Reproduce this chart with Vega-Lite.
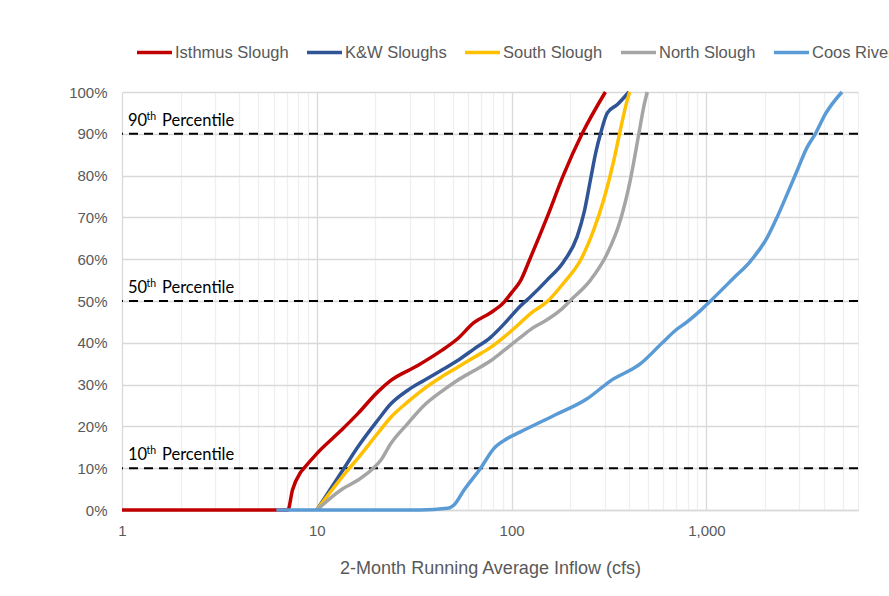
{
  "$schema": "https://vega.github.io/schema/vega-lite/v6.json",
  "width": 736,
  "height": 418,
  "autosize": {"type": "none"},
  "padding": {"left": 122, "top": 92, "right": 31, "bottom": 86},
  "background": "white",
  "config": {"view": {"stroke": null}, "font": "Liberation Sans"},
  "datasets": {
    "curves": [
      {"series": "Isthmus Slough", "flow": 1, "pct": 0},
      {"series": "Isthmus Slough", "flow": 7.1, "pct": 0},
      {"series": "Isthmus Slough", "flow": 7.5, "pct": 0.048},
      {"series": "Isthmus Slough", "flow": 8.2, "pct": 0.088},
      {"series": "Isthmus Slough", "flow": 8.6, "pct": 0.10},
      {"series": "Isthmus Slough", "flow": 10, "pct": 0.135},
      {"series": "Isthmus Slough", "flow": 13.3, "pct": 0.19},
      {"series": "Isthmus Slough", "flow": 16.2, "pct": 0.23},
      {"series": "Isthmus Slough", "flow": 20.5, "pct": 0.282},
      {"series": "Isthmus Slough", "flow": 24, "pct": 0.31},
      {"series": "Isthmus Slough", "flow": 32.8, "pct": 0.345},
      {"series": "Isthmus Slough", "flow": 43.2, "pct": 0.38},
      {"series": "Isthmus Slough", "flow": 52.6, "pct": 0.409},
      {"series": "Isthmus Slough", "flow": 64, "pct": 0.448},
      {"series": "Isthmus Slough", "flow": 78, "pct": 0.472},
      {"series": "Isthmus Slough", "flow": 91, "pct": 0.496},
      {"series": "Isthmus Slough", "flow": 100, "pct": 0.52},
      {"series": "Isthmus Slough", "flow": 111, "pct": 0.548},
      {"series": "Isthmus Slough", "flow": 124, "pct": 0.60},
      {"series": "Isthmus Slough", "flow": 152, "pct": 0.70},
      {"series": "Isthmus Slough", "flow": 184, "pct": 0.80},
      {"series": "Isthmus Slough", "flow": 230, "pct": 0.90},
      {"series": "Isthmus Slough", "flow": 303, "pct": 1.0},

      {"series": "K&W Sloughs", "flow": 10, "pct": 0},
      {"series": "K&W Sloughs", "flow": 13.8, "pct": 0.10},
      {"series": "K&W Sloughs", "flow": 16.2, "pct": 0.15},
      {"series": "K&W Sloughs", "flow": 20.5, "pct": 0.214},
      {"series": "K&W Sloughs", "flow": 24, "pct": 0.254},
      {"series": "K&W Sloughs", "flow": 29.2, "pct": 0.286},
      {"series": "K&W Sloughs", "flow": 35.5, "pct": 0.31},
      {"series": "K&W Sloughs", "flow": 43.2, "pct": 0.333},
      {"series": "K&W Sloughs", "flow": 52.6, "pct": 0.357},
      {"series": "K&W Sloughs", "flow": 64, "pct": 0.385},
      {"series": "K&W Sloughs", "flow": 78, "pct": 0.413},
      {"series": "K&W Sloughs", "flow": 91, "pct": 0.444},
      {"series": "K&W Sloughs", "flow": 111, "pct": 0.488},
      {"series": "K&W Sloughs", "flow": 125, "pct": 0.51},
      {"series": "K&W Sloughs", "flow": 152, "pct": 0.55},
      {"series": "K&W Sloughs", "flow": 185, "pct": 0.594},
      {"series": "K&W Sloughs", "flow": 217, "pct": 0.654},
      {"series": "K&W Sloughs", "flow": 235, "pct": 0.71},
      {"series": "K&W Sloughs", "flow": 254, "pct": 0.79},
      {"series": "K&W Sloughs", "flow": 270, "pct": 0.854},
      {"series": "K&W Sloughs", "flow": 286, "pct": 0.90},
      {"series": "K&W Sloughs", "flow": 310, "pct": 0.95},
      {"series": "K&W Sloughs", "flow": 349, "pct": 0.97},
      {"series": "K&W Sloughs", "flow": 400, "pct": 1.0},

      {"series": "South Slough", "flow": 10, "pct": 0},
      {"series": "South Slough", "flow": 14.7, "pct": 0.10},
      {"series": "South Slough", "flow": 16.2, "pct": 0.123},
      {"series": "South Slough", "flow": 20.5, "pct": 0.183},
      {"series": "South Slough", "flow": 24, "pct": 0.222},
      {"series": "South Slough", "flow": 29.2, "pct": 0.258},
      {"series": "South Slough", "flow": 35.5, "pct": 0.29},
      {"series": "South Slough", "flow": 43.2, "pct": 0.317},
      {"series": "South Slough", "flow": 52.6, "pct": 0.341},
      {"series": "South Slough", "flow": 64, "pct": 0.365},
      {"series": "South Slough", "flow": 78, "pct": 0.389},
      {"series": "South Slough", "flow": 91, "pct": 0.413},
      {"series": "South Slough", "flow": 111, "pct": 0.448},
      {"series": "South Slough", "flow": 125, "pct": 0.47},
      {"series": "South Slough", "flow": 152, "pct": 0.498},
      {"series": "South Slough", "flow": 185, "pct": 0.543},
      {"series": "South Slough", "flow": 226, "pct": 0.598},
      {"series": "South Slough", "flow": 264, "pct": 0.67},
      {"series": "South Slough", "flow": 297, "pct": 0.742},
      {"series": "South Slough", "flow": 335, "pct": 0.837},
      {"series": "South Slough", "flow": 358, "pct": 0.90},
      {"series": "South Slough", "flow": 392, "pct": 0.98},
      {"series": "South Slough", "flow": 404, "pct": 1.0},

      {"series": "North Slough", "flow": 10, "pct": 0},
      {"series": "North Slough", "flow": 13.3, "pct": 0.048},
      {"series": "North Slough", "flow": 16.2, "pct": 0.071},
      {"series": "North Slough", "flow": 19.3, "pct": 0.098},
      {"series": "North Slough", "flow": 21.3, "pct": 0.119},
      {"series": "North Slough", "flow": 24, "pct": 0.159},
      {"series": "North Slough", "flow": 29.2, "pct": 0.206},
      {"series": "North Slough", "flow": 35.5, "pct": 0.25},
      {"series": "North Slough", "flow": 43.2, "pct": 0.282},
      {"series": "North Slough", "flow": 52.6, "pct": 0.31},
      {"series": "North Slough", "flow": 64, "pct": 0.333},
      {"series": "North Slough", "flow": 78, "pct": 0.357},
      {"series": "North Slough", "flow": 91, "pct": 0.381},
      {"series": "North Slough", "flow": 111, "pct": 0.413},
      {"series": "North Slough", "flow": 128, "pct": 0.435},
      {"series": "North Slough", "flow": 152, "pct": 0.455},
      {"series": "North Slough", "flow": 178, "pct": 0.478},
      {"series": "North Slough", "flow": 201, "pct": 0.502},
      {"series": "North Slough", "flow": 254, "pct": 0.55},
      {"series": "North Slough", "flow": 310, "pct": 0.614},
      {"series": "North Slough", "flow": 362, "pct": 0.694},
      {"series": "North Slough", "flow": 407, "pct": 0.79},
      {"series": "North Slough", "flow": 450, "pct": 0.90},
      {"series": "North Slough", "flow": 477, "pct": 0.965},
      {"series": "North Slough", "flow": 497, "pct": 1.0},

      {"series": "Coos River", "flow": 6.2, "pct": 0},
      {"series": "Coos River", "flow": 34, "pct": 0},
      {"series": "Coos River", "flow": 46.8, "pct": 0.004},
      {"series": "Coos River", "flow": 50.6, "pct": 0.012},
      {"series": "Coos River", "flow": 57, "pct": 0.048},
      {"series": "Coos River", "flow": 69.3, "pct": 0.10},
      {"series": "Coos River", "flow": 81, "pct": 0.147},
      {"series": "Coos River", "flow": 95, "pct": 0.171},
      {"series": "Coos River", "flow": 111, "pct": 0.187},
      {"series": "Coos River", "flow": 165, "pct": 0.226},
      {"series": "Coos River", "flow": 244, "pct": 0.266},
      {"series": "Coos River", "flow": 322, "pct": 0.309},
      {"series": "Coos River", "flow": 459, "pct": 0.35},
      {"series": "Coos River", "flow": 594, "pct": 0.40},
      {"series": "Coos River", "flow": 695, "pct": 0.43},
      {"series": "Coos River", "flow": 796, "pct": 0.45},
      {"series": "Coos River", "flow": 931, "pct": 0.477},
      {"series": "Coos River", "flow": 1049, "pct": 0.50},
      {"series": "Coos River", "flow": 1380, "pct": 0.555},
      {"series": "Coos River", "flow": 1681, "pct": 0.595},
      {"series": "Coos River", "flow": 2047, "pct": 0.651},
      {"series": "Coos River", "flow": 2303, "pct": 0.70},
      {"series": "Coos River", "flow": 2593, "pct": 0.755},
      {"series": "Coos River", "flow": 2917, "pct": 0.811},
      {"series": "Coos River", "flow": 3282, "pct": 0.867},
      {"series": "Coos River", "flow": 3622, "pct": 0.90},
      {"series": "Coos River", "flow": 4077, "pct": 0.947},
      {"series": "Coos River", "flow": 4964, "pct": 1.0}
    ],
    "percentiles": [
      {"p": 0.1, "num": "10"},
      {"p": 0.5, "num": "50"},
      {"p": 0.9, "num": "90"}
    ]
  },
  "layer": [
    {
      "data": {"name": "percentiles"},
      "mark": {"type": "rule", "color": "black", "strokeWidth": 2, "strokeDash": [9, 6]},
      "encoding": {
        "y": {"field": "p", "type": "quantitative"}
      }
    },
    {
      "data": {"name": "curves"},
      "mark": {"type": "line", "strokeWidth": 3.5, "interpolate": "monotone"},
      "encoding": {
        "x": {
          "field": "flow",
          "type": "quantitative",
          "scale": {"type": "log", "domain": [1, 6000], "nice": false},
          "axis": {
            "values": [1,2,3,4,5,6,7,8,9,10,20,30,40,50,60,70,80,90,100,200,300,400,500,600,700,800,900,1000,2000,3000,4000,5000,6000],
            "labelExpr": "indexof([1,10,100,1000], datum.value) >= 0 ? format(datum.value, ',') : ''",
            "grid": true,
            "gridColor": {"condition": {"test": "indexof([1,10,100,1000], datum.value) >= 0", "value": "#d9d9d9"}, "value": "#efefef"},
            "gridWidth": 1.3,
            "ticks": false,
            "domainColor": "#d9d9d9",
            "domainWidth": 1.5,
            "labelFontSize": 15,
            "labelColor": "#595959",
            "labelPadding": 13,
            "labelFlush": false,
            "labelOverlap": false,
            "title": "2-Month Running Average Inflow (cfs)",
            "titleFontSize": 18,
            "titleFontWeight": "normal",
            "titleColor": "#595959",
            "titlePadding": 21
          }
        },
        "y": {
          "field": "pct",
          "type": "quantitative",
          "scale": {"domain": [0, 1], "nice": false},
          "axis": {
            "values": [0,0.1,0.2,0.3,0.4,0.5,0.6,0.7,0.8,0.9,1.0],
            "format": ".0%",
            "grid": true,
            "gridColor": "#d9d9d9",
            "gridWidth": 1.3,
            "domain": false,
            "ticks": false,
            "labelFontSize": 15,
            "labelColor": "#595959",
            "labelPadding": 15,
            "title": null
          }
        },
        "color": {
          "field": "series",
          "type": "nominal",
          "sort": null,
          "scale": {
            "domain": ["Isthmus Slough", "K&W Sloughs", "South Slough", "North Slough", "Coos River"],
            "range": ["#C00000", "#2F5597", "#FFC000", "#A5A5A5", "#5B9BD5"]
          },
          "legend": {
            "orient": "none",
            "legendX": 13,
            "legendY": -59,
            "direction": "horizontal",
            "title": null,
            "symbolType": "stroke",
            "symbolStrokeWidth": 3.5,
            "symbolSize": 1225,
            "labelFontSize": 16.5,
            "labelFont": "Liberation Sans",
            "labelColor": "#595959",
            "labelOffset": 1,
            "columnPadding": 11
          }
        }
      }
    },
    {
      "data": {"name": "percentiles"},
      "mark": {"type": "text", "align": "left", "baseline": "alphabetic", "dx": 6, "dy": -8, "font": "Lato", "fontSize": 16.5, "color": "black"},
      "encoding": {
        "x": {"datum": 1, "type": "quantitative"},
        "y": {"field": "p", "type": "quantitative"},
        "text": {"field": "num"}
      }
    },
    {
      "data": {"name": "percentiles"},
      "mark": {"type": "text", "align": "left", "baseline": "alphabetic", "dx": 24.5, "dy": -14, "font": "Lato", "fontSize": 10.5, "color": "black", "text": "th"},
      "encoding": {
        "x": {"datum": 1, "type": "quantitative"},
        "y": {"field": "p", "type": "quantitative"}
      }
    },
    {
      "data": {"name": "percentiles"},
      "mark": {"type": "text", "align": "left", "baseline": "alphabetic", "dx": 40, "dy": -8, "font": "Lato", "fontSize": 16.5, "color": "black", "text": "Percentile"},
      "encoding": {
        "x": {"datum": 1, "type": "quantitative"},
        "y": {"field": "p", "type": "quantitative"}
      }
    }
  ]
}
